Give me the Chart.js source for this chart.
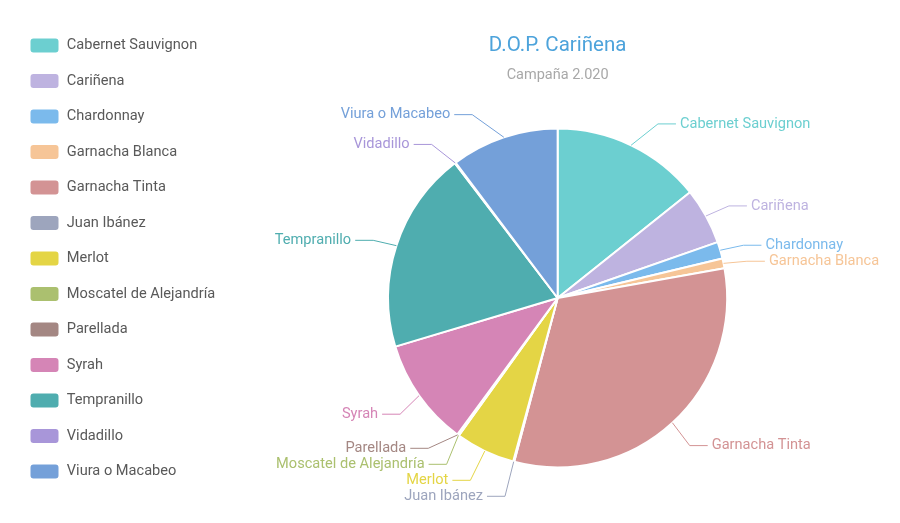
<!DOCTYPE html>
<html>
<head>
<meta charset="utf-8">
<script src="https://cdn.jsdelivr.net/npm/chart.js@4.4.1/dist/chart.umd.min.js"></script>
<style>
  html, body { margin: 0; padding: 0; background: #fff; }
  #wrap { width: 900px; height: 523px; }
</style>
</head>
<body>
<div id="wrap"><canvas id="grapeChart" width="900" height="523"></canvas></div>
<script>
// Variedades D.O.P. Cariñena, campaña 2020 (share, %)
const varieties = [
    'Cabernet Sauvignon', 'Cariñena', 'Chardonnay', 'Garnacha Blanca', 'Garnacha Tinta',
    'Juan Ibánez', 'Merlot', 'Moscatel de Alejandría', 'Parellada', 'Syrah',
    'Tempranillo', 'Vidadillo', 'Viura o Macabeo'
];
const shares = [14.3, 5.4, 1.6, 0.95, 32.0, 0.1, 5.7, 0.08, 0.1, 10.3, 19.3, 0.1, 10.3];
const sliceColors = [
    '#6CCFD0', '#BEB3E0', '#7BBAEC', '#F6C597', '#D39394',
    '#9DA5BD', '#E4D545', '#ABC06F', '#A48783', '#D585B6',
    '#4FADAF', '#A896D9', '#74A0D9'
];

// Push overlapping labels apart, keeping the group centred
function spreadLabels(list, gap) {
    list.sort((a, b) => a.y - b.y);
    for (let pass = 0; pass < 100; pass++) {
        let moved = false;
        for (let k = 1; k < list.length; k++) {
            const overlap = gap - (list[k].y - list[k - 1].y);
            if (overlap > 0.01) {
                list[k - 1].y -= overlap / 2;
                list[k].y += overlap / 2;
                moved = true;
            }
        }
        if (!moved) break;
    }
}

// Outside labels with bent connector lines
const sliceLabels = {
    id: 'sliceLabels',
    afterDatasetsDraw(chart) {
        const ctx = chart.ctx;
        const meta = chart.getDatasetMeta(0);
        const items = meta.data.map((arc, i) => {
            const p = arc.getProps(['x', 'y', 'startAngle', 'endAngle', 'outerRadius'], true);
            const mid = (p.startAngle + p.endAngle) / 2;
            return {
                i: i, mid: mid, right: Math.cos(mid) >= 0,
                cx: p.x, cy: p.y, r: p.outerRadius,
                y: p.y + 3 + Math.sin(mid) * (p.outerRadius + 27)
            };
        });
        spreadLabels(items.filter(it => it.right), 16);
        spreadLabels(items.filter(it => !it.right), 16);

        ctx.save();
        ctx.font = '14.6px Roboto';
        ctx.textBaseline = 'middle';
        ctx.lineWidth = 1;
        items.forEach(it => {
            const dir = it.right ? 1 : -1;
            const R = it.r + 41;
            const dy = Math.max(-R, Math.min(R, it.y - it.cy));
            const endX = it.cx + dir * Math.sqrt(R * R - dy * dy);
            const elbowX = endX - dir * 18;
            const sx = it.cx + Math.cos(it.mid) * it.r;
            const sy = it.cy + Math.sin(it.mid) * it.r;
            const color = sliceColors[it.i];

            ctx.strokeStyle = color;
            ctx.beginPath();
            ctx.moveTo(sx, sy);
            ctx.lineTo(elbowX, it.y);
            ctx.lineTo(endX, it.y);
            ctx.stroke();

            ctx.fillStyle = color;
            ctx.textAlign = it.right ? 'left' : 'right';
            ctx.fillText(varieties[it.i], endX + dir * 4, it.y);
        });
        ctx.restore();
    }
};

new Chart(document.getElementById('grapeChart'), {
    type: 'pie',
    data: {
        labels: varieties,
        datasets: [{
            data: shares,
            backgroundColor: sliceColors,
            borderColor: '#ffffff',
            borderWidth: 2,
            radius: 169.5
        }]
    },
    options: {
        responsive: false,
        animation: false,
        events: [],
        layout: {
            padding: { top: 18, left: 10, right: 10, bottom: 15 }
        },
        plugins: {
            legend: {
                position: 'left',
                align: 'start',
                fullSize: true,
                labels: {
                    boxWidth: 30,
                    boxHeight: 16,
                    padding: 19.5,
                    useBorderRadius: true,
                    borderRadius: 4,
                    color: '#595959',
                    font: { family: 'Roboto', size: 14.6 }
                }
            },
            title: {
                display: true,
                text: 'D.O.P. Cariñena',
                fullSize: false,
                color: '#4DA3DB',
                font: { family: 'Roboto', size: 20.5, weight: 'normal' },
                padding: { top: 15.7, bottom: 4 }
            },
            subtitle: {
                display: true,
                text: 'Campaña 2.020',
                fullSize: false,
                color: '#A8A8A8',
                font: { family: 'Roboto', size: 14.5 },
                padding: { top: 4, bottom: 4.3 }
            },
            tooltip: { enabled: false }
        }
    },
    plugins: [sliceLabels]
});
</script>
</body>
</html>
